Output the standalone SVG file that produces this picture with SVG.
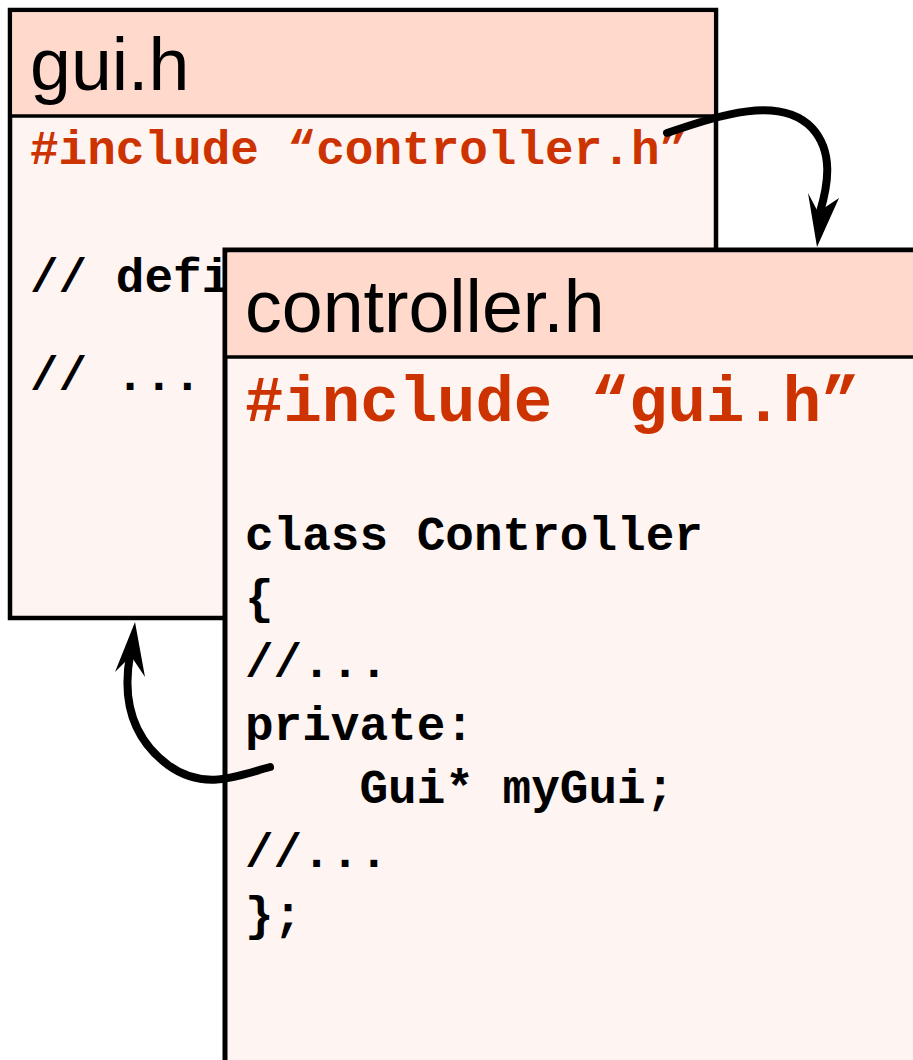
<svg xmlns="http://www.w3.org/2000/svg" width="913" height="1060" viewBox="0 0 913 1060">
<style>
.box{stroke:#000;stroke-width:4.5;fill:#FEF4F1}
.hdr{fill:#FED9CC}
.sep{stroke:#000;stroke-width:3.5}
.title{font-family:"Liberation Sans",Arial,sans-serif;font-size:73.5px;fill:#000}
.code{font-family:"Liberation Mono","Courier New",monospace;font-weight:bold;font-size:47.7px;fill:#000}
.inc{fill:#CC3300}
.conn{fill:none;stroke:#000;stroke-width:8;stroke-linecap:round}
</style>
<rect width="913" height="1060" fill="#fff"/>
<g id="gui">
<rect class="box" x="10" y="10" width="706" height="608"/>
<rect class="hdr" x="12.25" y="12.25" width="701.5" height="103.75"/>
<line class="sep" x1="10" y1="116" x2="716" y2="116"/>
<text class="title" x="30" y="90">gui.h</text>
<text class="code inc" x="30" y="164">#include “controller.h”</text>
<text class="code" x="30" y="292">// defi</text>
<text class="code" x="30" y="390">// ...</text>
</g>
<g id="controller">
<rect class="box" x="225" y="250" width="720" height="860" style="stroke-width:5"/>
<rect class="hdr" x="227.5" y="252.5" width="690" height="104"/>
<line class="sep" x1="225" y1="357" x2="913" y2="357"/>
<text class="title" x="245" y="332">controller.h</text>
<text class="code inc" x="245" y="421" style="font-size:64px">#include “gui.h”</text>
<text class="code" x="245" y="550">class Controller</text>
<text class="code" x="245" y="613">{</text>
<text class="code" x="245" y="677">//...</text>
<text class="code" x="245" y="740">private:</text>
<text class="code" x="245" y="803" xml:space="preserve">    Gui* myGui;</text>
<text class="code" x="245" y="867">//...</text>
<text class="code" x="245" y="930">};</text>
</g>
<g id="connectors">
<path class="conn" d="M667,133 C720,115 780,95 812,128 C834,152 828,185 820,212"/>
<polygon points="817,247 808,193 818,212 839,198" fill="#000"/>
<path class="conn" d="M270,767 C240,775 205,792 168,765 C132,738 122,700 130,655"/>
<polygon points="135,622 115,672 131,656 145,677" fill="#000"/>
</g>
</svg>
